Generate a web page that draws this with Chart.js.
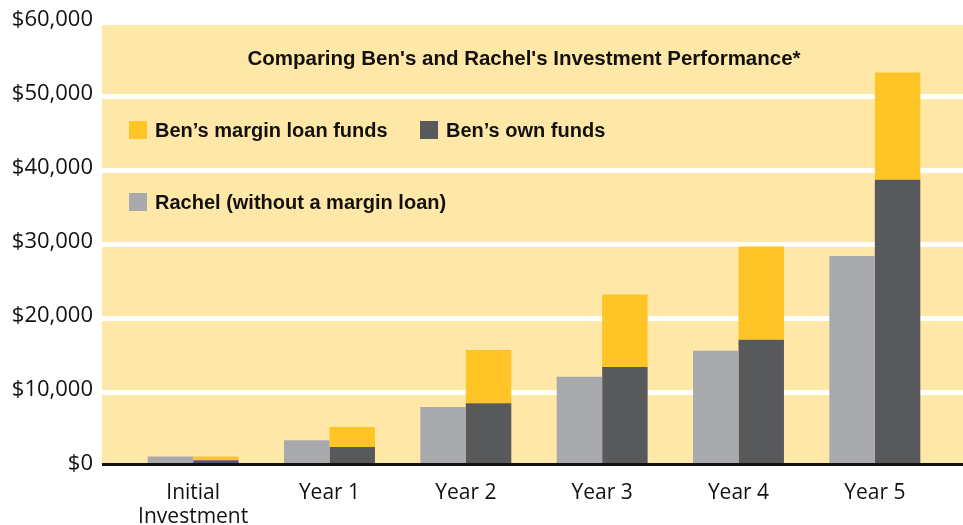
<!DOCTYPE html>
<html>
<head>
<meta charset="utf-8">
<script src="https://cdn.jsdelivr.net/npm/chart.js@4/dist/chart.umd.min.js"></script>
<style>
  body { margin: 0; background: #fff; }
  #wrap { position: relative; width: 963px; height: 525px; }
  #title { position: absolute; left: 0; width: 1048px; top: 46px; text-align: center;
    font: bold 20.5px "Liberation Sans", Arial, sans-serif; color: #111; white-space: nowrap; }
  .leg { position: absolute; font: bold 20px "Liberation Sans", Arial, sans-serif; color: #111;
    white-space: nowrap; line-height: 20px; }
  .leg span.sw { position: absolute; left: -26px; top: 1px; width: 18px; height: 18px; }
</style>
</head>
<body>
<div id="wrap">
  <canvas id="myChart" width="963" height="525"></canvas>
  <div id="title">Comparing Ben's and Rachel's Investment Performance*</div>
  <div id="legend"></div>
</div>
<script>
// categories and values
const categories = [['Initial', 'Investment'], 'Year 1', 'Year 2', 'Year 3', 'Year 4', 'Year 5'];
const rachel = [1000, 3200, 7700, 11800, 15300, 28100];
const benOwn = [500, 2300, 8200, 13100, 16800, 38400];
const benMargin = [500, 2700, 7200, 9800, 12600, 14500];
const yMax = 60000;
const yStep = 10000;

const colYellowBg = '#FFE7A8';
const colRachel = '#A8A9AD';
const colOwn = '#58595B';
const colMargin = '#FFC425';

// legend (html text)
const legendItems = [
  { label: 'Ben\u2019s margin loan funds', color: colMargin, x: 155, y: 120 },
  { label: 'Ben\u2019s own funds', color: colOwn, x: 446, y: 120 },
  { label: 'Rachel (without a margin loan)', color: colRachel, x: 155, y: 192 }
];
const legendDiv = document.getElementById('legend');
legendItems.forEach(function (it) {
  const d = document.createElement('div');
  d.className = 'leg';
  d.style.left = it.x + 'px';
  d.style.top = it.y + 'px';
  const sw = document.createElement('span');
  sw.className = 'sw';
  sw.style.background = it.color;
  d.appendChild(sw);
  d.appendChild(document.createTextNode(it.label));
  legendDiv.appendChild(d);
});

// pale yellow background with white bands, and black base line
const bandPlugin = {
  id: 'bands',
  beforeDatasetsDraw(chart) {
    const ctx = chart.ctx;
    const y = chart.scales.y;
    const left = 102, right = chart.width;
    const top = y.getPixelForValue(yMax) + 5;
    const bottom = y.getPixelForValue(0);
    ctx.save();
    ctx.fillStyle = colYellowBg;
    ctx.fillRect(left, top, right - left, bottom - top);
    ctx.fillStyle = '#fff';
    for (let v = yStep; v < yMax; v += yStep) {
      ctx.fillRect(left, y.getPixelForValue(v), right - left, 5);
    }
    ctx.restore();
  },
  afterDatasetsDraw(chart) {
    const ctx = chart.ctx;
    const y = chart.scales.y;
    ctx.save();
    ctx.fillStyle = '#111';
    ctx.fillRect(102, y.getPixelForValue(0) - 1, chart.width - 102, 3);
    ctx.restore();
  }
};

const ctx = document.getElementById('myChart').getContext('2d');
const myChart = new Chart(ctx, {
  type: 'bar',
  data: {
    labels: categories,
    datasets: [
      { label: 'Rachel (without a margin loan)', data: rachel, backgroundColor: colRachel, stack: 'rachel' },
      { label: 'Ben\u2019s own funds', data: benOwn, backgroundColor: colOwn, stack: 'ben' },
      { label: 'Ben\u2019s margin loan funds', data: benMargin, backgroundColor: colMargin, stack: 'ben' }
    ]
  },
  options: {
    responsive: false,
    animation: false,
    layout: { padding: { top: 20, right: 20, left: 0, bottom: 0 } },
    datasets: { bar: { categoryPercentage: 0.667, barPercentage: 1.0 } },
    plugins: { legend: { display: false }, tooltip: { enabled: false } },
    scales: {
      x: {
        stacked: true,
        grid: { display: false },
        border: { display: false },
        ticks: { color: '#111', padding: 9, font: { family: '"Open Sans", sans-serif', size: 21, lineHeight: 1.15 } },
        afterFit(scale) { scale.height = 61; scale.paddingLeft = 0; scale.paddingRight = 0; }
      },
      y: {
        stacked: true,
        min: 0,
        max: yMax,
        grid: { display: false },
        border: { display: false },
        ticks: {
          stepSize: yStep,
          color: '#111',
          padding: 24,
          labelOffset: 0,
          font: { family: '"Open Sans", sans-serif', size: 22 },
          callback: function (v) { return '$' + v.toLocaleString('en-US'); }
        },
        afterFit(scale) { scale.width = 125; scale.paddingTop = 0; scale.paddingBottom = 0; }
      }
    }
  },
  plugins: [bandPlugin]
});
</script>
</body>
</html>
